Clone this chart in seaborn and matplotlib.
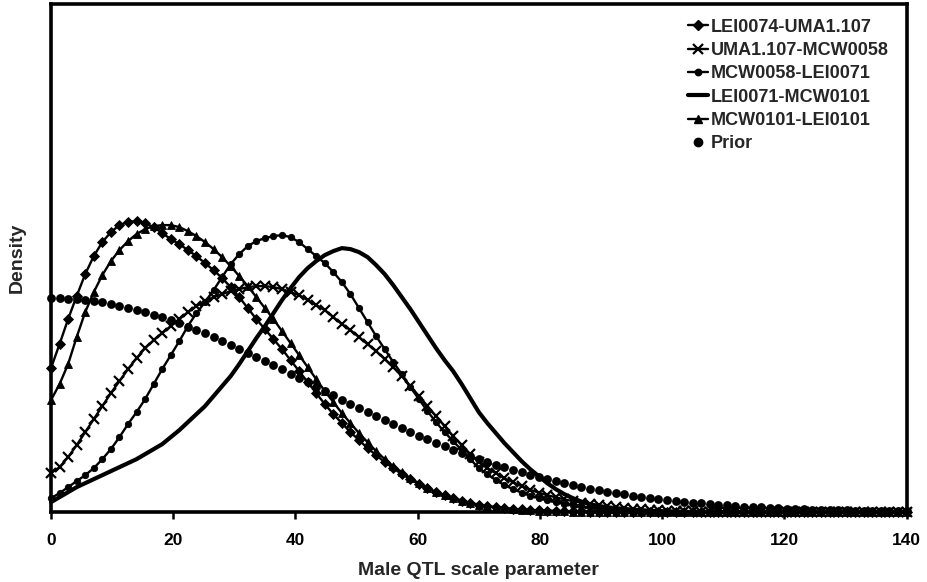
import numpy as np
import pandas as pd
import matplotlib
matplotlib.use("Agg")
import matplotlib.pyplot as plt
from matplotlib.lines import Line2D
import seaborn as sns

# ---- data (x grid 0..140 step 1.4) ----
x_values = np.linspace(0, 140, 101)

lei0074_uma1107 = [144, 168, 193, 216, 238, 256, 270, 280, 287, 290,
                   291, 289, 285, 279, 273, 268, 262, 256, 249, 242,
                   234, 225, 215, 204, 193, 183, 173, 163, 152, 141,
                   130, 119, 108, 98, 89, 80, 72, 64, 57, 50,
                   44, 38, 33, 28, 24, 20, 17, 14, 11.5, 9,
                   7, 5.8, 4.8, 4, 3.3, 2.7, 2.2, 1.8, 1.5, 1.2,
                   1.0, 0.8, 0.7, 0.6, 0.5, 0.4, 0.3, 0.3, 0.2, 0.2,
                   0.2, 0.1, 0.1, 0.1, 0.1, 0.1, 0.1, 0.1, 0.1, 0.1,
                   0.1, 0, 0, 0, 0, 0, 0, 0, 0, 0,
                   0, 0, 0, 0, 0, 0, 0, 0, 0, 0, 0]

uma1107_mcw0058 = [39, 45, 55, 67, 80, 93, 106, 119, 131, 143,
                   154, 164, 172, 179, 186, 193, 200, 206, 211, 215,
                   218, 221, 223, 225, 226, 226, 225, 223, 220, 217,
                   212, 207, 202, 195, 188, 182, 175, 168, 161, 153,
                   145, 136, 126, 116, 106, 96, 86, 76, 67, 58,
                   50, 44, 39, 34, 30, 26, 22.5, 19.5, 17, 14.8,
                   12.8, 11, 9.5, 8.1, 6.9, 5.8, 4.9, 4.1, 3.4, 2.8,
                   2.3, 1.9, 1.6, 1.3, 1.0, 0.8, 0.6, 0.5, 0.4, 0.3,
                   0.3, 0.2, 0.2, 0.1, 0.1, 0.1, 0, 0, 0, 0,
                   0, 0, 0, 0, 0, 0, 0, 0, 0, 0, 0]

mcw0058_lei0071 = [14, 19, 25, 31, 37, 44, 53, 63, 75, 88,
                   100, 113, 128, 143, 157, 171, 186, 199, 210, 222,
                   235, 248, 258, 266, 271, 274, 276, 277, 275, 270,
                   263, 256, 249, 240, 230, 218, 204, 190, 176, 163,
                   150, 138, 125, 113, 101, 90, 80, 71, 62, 53,
                   44, 38, 32, 27, 23, 19.5, 16.5, 14, 11.8, 9.9,
                   8.3, 6.9, 5.7, 4.7, 3.9, 3.2, 2.6, 2.1, 1.7, 1.4,
                   1.1, 0.9, 0.7, 0.6, 0.5, 0.4, 0.3, 0.3, 0.2, 0.2,
                   0.1, 0.1, 0, 0, 0, 0, 0, 0, 0, 0,
                   0, 0, 0, 0, 0, 0, 0, 0, 0, 0, 0]

lei0071_mcw0101 = [10, 15, 20, 25, 29, 33, 37, 41, 45, 49,
                   53, 58, 63, 68, 75, 82, 90, 98, 106, 116,
                   126, 136, 148, 161, 174, 186, 199, 212, 224, 235,
                   244, 251, 257, 261, 264, 263, 260, 255, 247, 238,
                   227, 215, 203, 190, 177, 164, 152, 141, 128, 114,
                   100, 89, 79, 69, 60, 51, 43, 36, 29, 23,
                   18, 14, 10.5, 8, 6, 4.5, 3.4, 2.5, 1.8, 1.3,
                   1.0, 0.7, 0.5, 0.4, 0.3, 0.2, 0.2, 0.1, 0.1, 0,
                   0, 0, 0, 0, 0, 0, 0, 0, 0, 0,
                   0, 0, 0, 0, 0, 0, 0, 0, 0, 0, 0]

mcw0101_lei0101 = [112, 128, 148, 175, 200, 220, 237, 251, 262, 271,
                   278, 283, 286, 287, 287, 285, 281, 276, 270, 263,
                   255, 246, 236, 226, 215, 204, 193, 181, 169, 157,
                   145, 133, 121, 110, 99, 89, 79, 70, 61, 53,
                   46, 40, 34, 29, 24, 20, 17, 14, 11.5, 9.3,
                   7.5, 6, 4.8, 3.8, 3, 2.4, 1.9, 1.5, 1.2, 1.0,
                   0.8, 0.6, 0.5, 0.4, 0.3, 0.3, 0.2, 0.2, 0.1, 0.1,
                   0.1, 0.1, 0.1, 0.1, 0.1, 0.1, 0, 0, 0, 0,
                   0, 0, 0, 0, 0, 0, 0, 0, 0, 0,
                   0, 0, 0, 0, 0, 0, 0, 0, 0, 0, 0]

prior = [214, 213.9, 213.5, 212.9, 212.1, 211.0, 209.8, 208.3, 206.5, 204.6,
         202.4, 200.1, 197.5, 194.8, 191.9, 188.9, 185.6, 182.3, 178.8, 175.1,
         171.4, 167.5, 163.6, 159.6, 155.4, 151.2, 147.0, 142.7, 138.5, 134.2,
         129.8, 125.5, 121.2, 116.9, 112.6, 108.4, 104.2, 100.0, 96.0, 91.9,
         87.9, 84.1, 80.2, 76.5, 72.9, 69.4, 66.0, 62.6, 59.4, 56.3,
         53.3, 50.4, 47.6, 44.9, 42.3, 39.8, 37.4, 35.2, 33.0, 30.9,
         29.0, 27.1, 25.3, 23.6, 22.0, 20.5, 19.0, 17.7, 16.4, 15.2,
         14.1, 13.0, 12.0, 11.1, 10.2, 9.4, 8.7, 7.9, 7.3, 6.7,
         6.1, 5.6, 5.1, 4.7, 4.3, 3.9, 3.5, 3.2, 2.9, 2.6,
         2.4, 2.1, 1.9, 1.7, 1.6, 1.4, 1.3, 1.1, 1.0, 0.9, 0.8]

labels = ["LEI0074-UMA1.107", "UMA1.107-MCW0058", "MCW0058-LEI0071",
          "LEI0071-MCW0101", "MCW0101-LEI0101", "Prior"]
x_ticks = [0, 20, 40, 60, 80, 100, 120, 140]

# ---- style ----
sns.set_theme(style="ticks")
plt.rcParams["font.family"] = ["Liberation Sans", "DejaVu Sans"]
plt.rcParams["font.weight"] = "bold"
plt.rcParams["axes.labelweight"] = "bold"

fig = plt.figure(figsize=(9.27, 5.82), dpi=100)
ax = fig.add_axes([0.055, 0.12, 0.923, 0.873])

line_series = [
    (lei0074_uma1107, dict(marker="D", markersize=4.6, lw=1.7, mew=0.6)),
    (uma1107_mcw0058, dict(marker="x", markersize=7.0, lw=1.7, mew=1.6)),
    (mcw0058_lei0071, dict(marker="o", markersize=4.6, lw=1.7, mew=0.6)),
    (lei0071_mcw0101, dict(marker=None, lw=3.0)),
    (mcw0101_lei0101, dict(marker="^", markersize=5.4, lw=1.7, mew=0.6)),
]

for vals, kw in line_series:
    df = pd.DataFrame({"x": x_values, "y": vals})
    sns.lineplot(data=df, x="x", y="y", ax=ax, color="black",
                 estimator=None, sort=False, legend=False,
                 markeredgecolor="black", clip_on=False, **kw)

sns.scatterplot(x=x_values, y=prior, ax=ax, color="black", s=40,
                linewidth=0, clip_on=False, legend=False, zorder=3)

ax.set_xlim(0, 140)
ax.set_ylim(0, 508)
ax.set_xticks(x_ticks)
ax.set_xticklabels([str(t) for t in x_ticks])
ax.set_yticks([])
ax.tick_params(axis="x", direction="out", length=5, width=1.8,
               labelsize=12.5, pad=10, colors="black")
for sp in ax.spines.values():
    sp.set_linewidth(2.6)
    sp.set_color("black")

ax.set_xlabel("Male QTL scale parameter", fontsize=14, fontweight="bold", labelpad=10)
ax.set_ylabel("Density", fontsize=14, fontweight="bold", labelpad=18)

handles = [
    Line2D([], [], color="black", marker="D", markersize=4.6, lw=1.7),
    Line2D([], [], color="black", marker="x", markersize=7.0, mew=1.6, lw=1.7),
    Line2D([], [], color="black", marker="o", markersize=4.6, lw=1.7),
    Line2D([], [], color="black", lw=3.0),
    Line2D([], [], color="black", marker="^", markersize=5.4, lw=1.7),
    Line2D([], [], color="black", marker="o", markersize=6.0, lw=0),
]
leg = ax.legend(handles, labels, loc="upper left", frameon=False,
                bbox_to_anchor=(0.745, 0.971), borderaxespad=0, borderpad=0,
                handlelength=1.1, handletextpad=0.15, labelspacing=0.35,
                prop={"size": 13, "weight": "bold"})

fig.savefig("out.png", dpi=100)
